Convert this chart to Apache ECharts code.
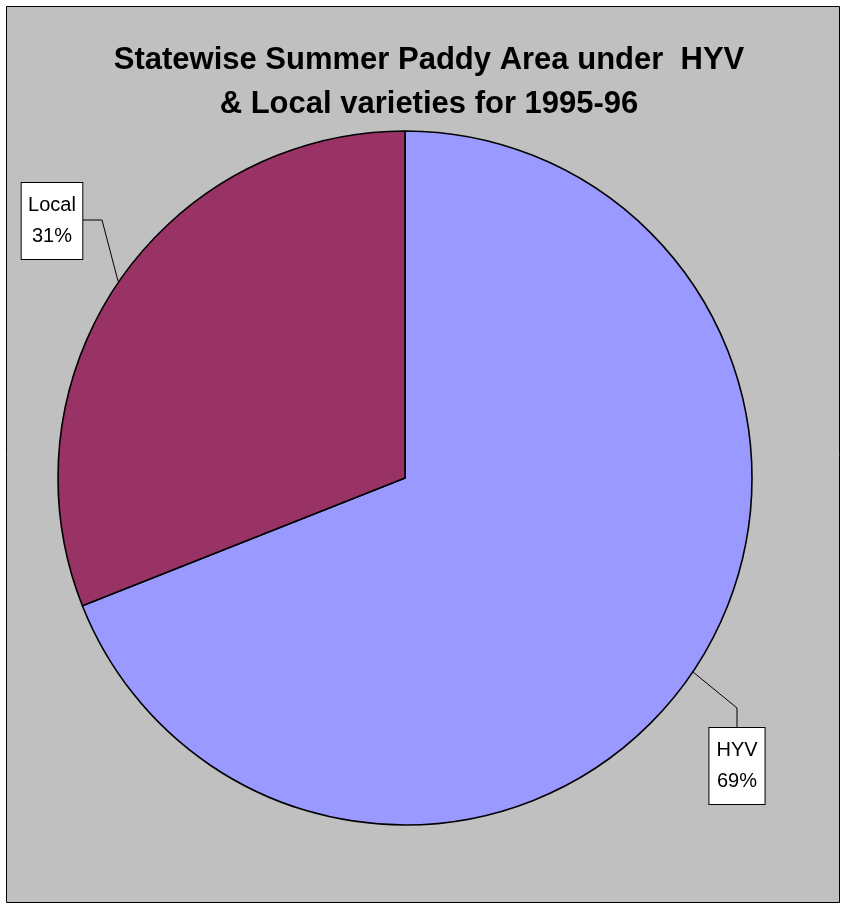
<!DOCTYPE html>
<html>
<head>
<meta charset="utf-8">
<script src="https://cdn.jsdelivr.net/npm/echarts@6/dist/echarts.min.js"></script>
<style>
  html, body { margin: 0; padding: 0; background: #fff; }
  #chart { width: 841px; height: 905px; }
</style>
</head>
<body>
<div id="chart"></div>
<script>
// data
const categories = ['HYV', 'Local']
const shares = [69, 31]
const colors = ['#9999ff', '#993366']

const chart = echarts.init(document.getElementById('chart'))

// where the boxed labels sit and how their leader lines bend
const labelSpots = [
    { x: 737, y: 766, line: [[693, 672], [737, 708], [737, 728]] },
    { x: 52, y: 221, line: [[118, 281], [102, 220], [83, 220]] }
]

chart.setOption({
    backgroundColor: '#fff',
    graphic: [
        {
            type: 'rect',
            z: -10,
            shape: { x: 6.5, y: 6.5, width: 833, height: 896 },
            style: { fill: '#c0c0c0', stroke: '#000', lineWidth: 1 }
        }
    ],
    title: {
        text: 'Statewise Summer Paddy Area under  HYV\n& Local varieties for 1995-96',
        left: 424,
        top: 33,
        textAlign: 'center',
        textStyle: {
            fontFamily: 'Liberation Sans',
            fontWeight: 'bold',
            fontSize: 31,
            lineHeight: 44,
            color: '#000'
        }
    },
    series: [
        {
            type: 'pie',
            center: [405, 478],
            radius: 347,
            startAngle: 90,
            clockwise: true,
            percentPrecision: 0,
            animation: false,
            data: categories.map((name, i) => ({
                name,
                value: shares[i],
                itemStyle: { color: colors[i] }
            })),
            itemStyle: { borderColor: '#000', borderWidth: 1.6 },
            emphasis: { disabled: true },
            label: {
                show: true,
                position: 'outside',
                formatter: '{b}\n{d}%',
                fontFamily: 'Liberation Sans',
                fontSize: 20,
                lineHeight: 31,
                color: '#000',
                backgroundColor: '#fff',
                borderColor: '#000',
                borderWidth: 1,
                padding: [7, 7, 7, 7],
                align: 'center',
                overflow: 'none'
            },
            labelLine: {
                show: true,
                lineStyle: { color: '#000', width: 1 }
            },
            labelLayout: (params) => {
                const s = labelSpots[params.dataIndex]
                return {
                    x: s.x,
                    y: s.y,
                    align: 'center',
                    verticalAlign: 'middle',
                    labelLinePoints: s.line
                }
            }
        }
    ]
})
</script>
</body>
</html>
